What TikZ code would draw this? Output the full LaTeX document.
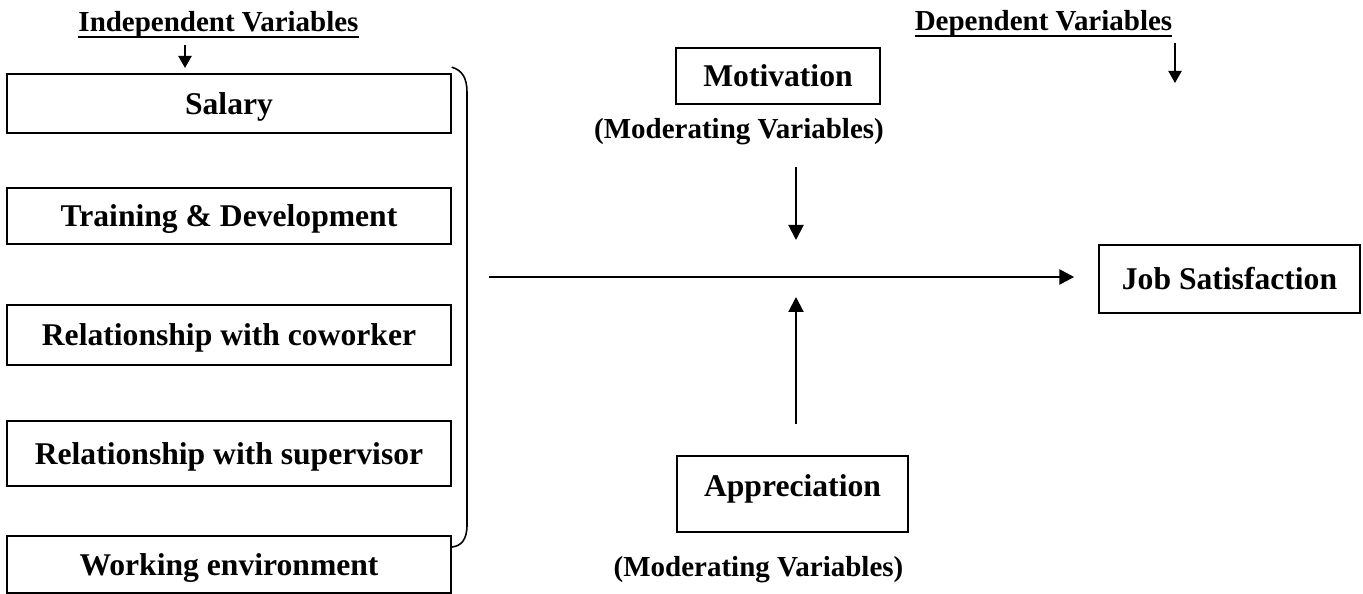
\documentclass[tikz,border=0pt]{standalone}
\usepackage{fontspec}
\setmainfont{Liberation Serif}
\usetikzlibrary{arrows.meta}
\newcommand{\ulhead}[1]{\setbox0\hbox{#1}\rlap{\usebox0}\rule[-3.4pt]{\wd0}{1.1pt}}

\tikzset{
  varbox/.style={draw, line width=0.9pt, inner sep=0pt, text height=12pt, text depth=0pt,
    font=\fontsize{18}{20}\selectfont\bfseries},
  headtext/.style={anchor=base, inner sep=0pt, font=\fontsize{16.5}{18}\selectfont\bfseries},
  flowarrow/.style={line width=1.2pt, -{Triangle[length=0.3cm,width=0.3cm]}},
  smallarrow/.style={line width=1.2pt, -{Triangle[length=0.24cm,width=0.26cm]}}
}

\begin{document}
\begin{tikzpicture}[x=0.02cm, y=-0.02cm]
		%%%%% START %%%%%
		\useasboundingbox (0, 0) rectangle (1363, 594);
		
		% headings
		\node[headtext] (indep) at (218.5, 32) {\ulhead{Independent Variables}};
		\node[headtext] (dep) at (1043.5, 31) {\ulhead{Dependent Variables}};
		
		% independent variables
		\node[varbox, minimum width=8.88cm, minimum height=1.18cm] (salary) at (229, 103.5) {Salary};
		\node[varbox, minimum width=8.88cm, minimum height=1.12cm] (training) at (229, 216) {Training \& Development};
		\node[varbox, minimum width=8.88cm, minimum height=1.2cm] (coworker) at (229, 335) {Relationship with coworker};
		\node[varbox, minimum width=8.88cm, minimum height=1.3cm] (supervisor) at (229, 453.5) {Relationship with supervisor};
		\node[varbox, minimum width=8.88cm, minimum height=1.14cm] (workenv) at (229, 564.5) {Working environment};
		
		% moderating variables
		\node[varbox, minimum width=4.08cm, minimum height=1.12cm] (motiv) at (778, 76) {Motivation};
		\node[headtext] (modtop) at (739, 139) {(Moderating Variables)};
		\node[varbox, minimum width=4.62cm, minimum height=1.52cm, text depth=8.6pt] (apprec) at (792.5, 494) {Appreciation};
		\node[headtext] (modbot) at (758.5, 576) {(Moderating Variables)};
		
		% dependent variable
		\node[varbox, minimum width=5.22cm, minimum height=1.36cm] (jobsat) at (1229.5, 279) {Job Satisfaction};
		
		% bracket round the independent variables
		\draw[line width=0.9pt] (salary.north east) ++(0, -6) .. controls (462, 70) and (467, 78) .. (467, 92)
			-- (467, 525) .. controls (467, 540) and (461, 546) .. (452, 547);
		
		% arrows
		\coordinate (ivtop) at (185, 45);
		\coordinate (ivtip) at (185, 68);
		\draw[smallarrow] (ivtop) -- (ivtip);
		\coordinate (dvtop) at (1175, 43);
		\coordinate (dvtip) at (1175, 83);
		\draw[smallarrow] (dvtop) -- (dvtip);
		
		\coordinate (flowstart) at (489, 277);
		\draw[flowarrow, line width=1.6pt] (flowstart) -- ([xshift=-0.48cm]jobsat.west |- flowstart);
		
		\coordinate (downtop) at (796, 167);
		\coordinate (downtip) at (796, 240);
		\draw[flowarrow] (downtop) -- (downtip);
		\coordinate (uptail) at (796, 424);
		\coordinate (uptip) at (796, 297);
		\draw[flowarrow] (uptail) -- (uptip);
		
		%%%%% END %%%%%
	\end{tikzpicture}
\end{document}
